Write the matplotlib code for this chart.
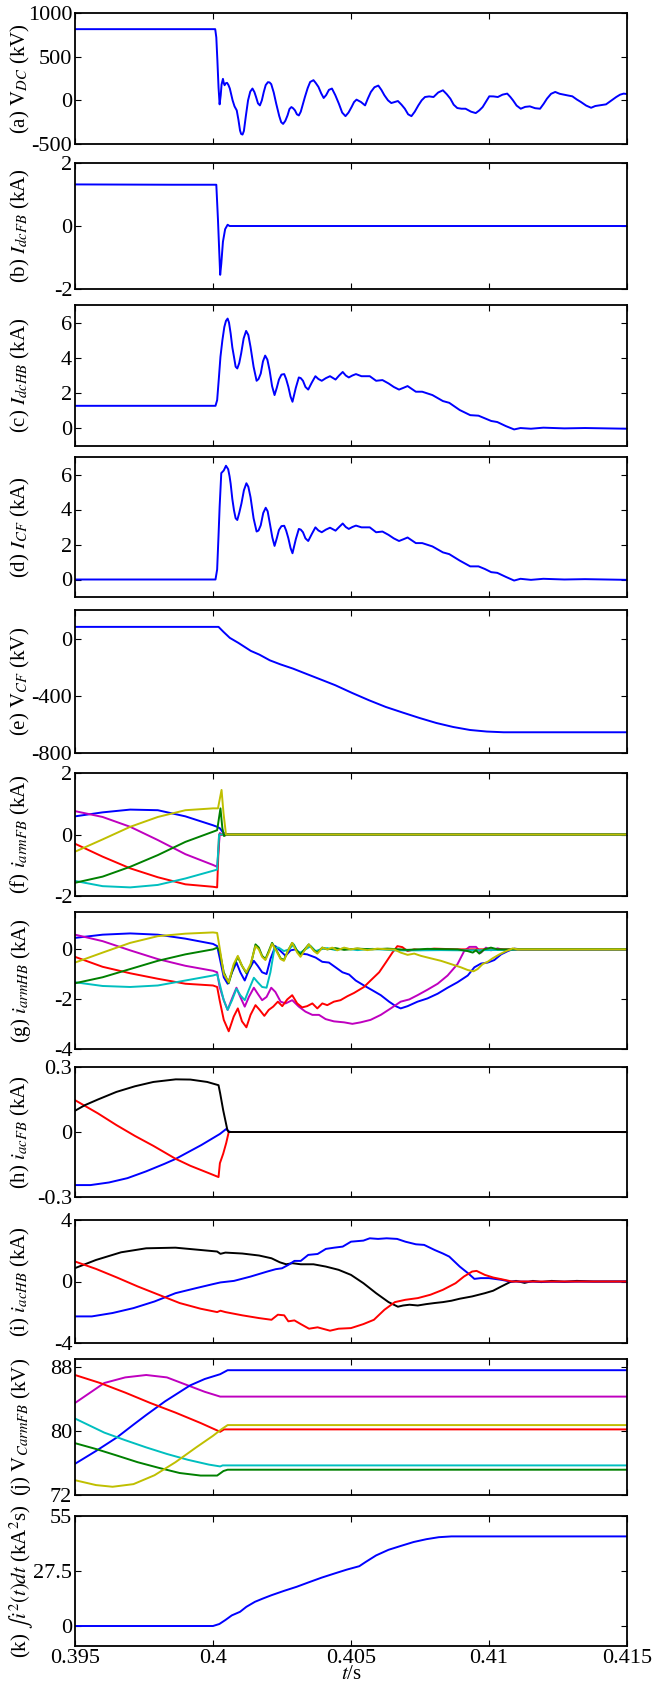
import matplotlib
matplotlib.use("Agg")
import matplotlib.pyplot as plt

plt.rcParams['font.family'] = ['Liberation Serif', 'DejaVu Serif']
plt.rcParams['mathtext.fontset'] = 'stix'
plt.rcParams['axes.unicode_minus'] = False

# ---------------- data (time s, value) ----------------
a_vdc = [(0.395, 815), (0.40008, 815), (0.40012, 720), (0.40016, 450), (0.40020, 150), (0.40024, -46),
         (0.40028, 60), (0.40031, 180), (0.40036, 246), (0.40039, 200), (0.40042, 173), (0.40046, 195),
         (0.40051, 200), (0.40056, 175), (0.40061, 135), (0.40066, 70), (0.40071, 0), (0.40078, -69),
         (0.40086, -115), (0.40092, -220), (0.40098, -346), (0.40102, -385), (0.40107, -392), (0.40112, -350),
         (0.40119, -180), (0.40127, 0), (0.40135, 100), (0.40143, 135), (0.40150, 95), (0.40156, 38),
         (0.40163, -35), (0.40170, -58), (0.40177, 0), (0.40184, 96), (0.40191, 175), (0.40199, 208),
         (0.40205, 205), (0.40211, 185), (0.40220, 90), (0.40229, -38), (0.40240, -180), (0.40247, -250),
         (0.40254, -270), (0.40262, -235), (0.40270, -173), (0.40277, -100), (0.40284, -77), (0.40290, -90),
         (0.40297, -115), (0.40304, -160), (0.40311, -173), (0.40318, -130), (0.40325, -50), (0.40333, 38),
         (0.40343, 140), (0.40352, 210), (0.40364, 231), (0.40372, 200), (0.40382, 154), (0.40392, 80),
         (0.40401, 27), (0.40410, 60), (0.40420, 120), (0.40431, 135), (0.40443, 60), (0.40456, -38),
         (0.40468, -140), (0.40480, -181), (0.40491, -140), (0.40502, -77), (0.40511, -20), (0.40520, 8),
         (0.40536, -19), (0.40551, -58), (0.40561, 20), (0.40572, 96), (0.40585, 150), (0.40599, 169),
         (0.40610, 120), (0.40621, 58), (0.40634, 0), (0.40646, -31), (0.40658, -20), (0.40670, -8),
         (0.40683, -50), (0.40695, -96), (0.40707, -160), (0.40719, -181), (0.40731, -130), (0.40744, -58),
         (0.40756, 0), (0.40768, 38), (0.40783, 45), (0.40799, 38), (0.40816, 90), (0.40833, 115),
         (0.40847, 70), (0.40860, 19), (0.40872, -50), (0.40885, -88), (0.40900, -96), (0.40915, -96),
         (0.40935, -130), (0.40952, -146), (0.40965, -115), (0.40977, -77), (0.40990, -10), (0.41001, 46),
         (0.41016, 45), (0.41032, 38), (0.41049, 65), (0.41066, 77), (0.41077, 40), (0.41087, 0),
         (0.41100, -60), (0.41115, -96), (0.41131, -75), (0.41148, -69), (0.41167, -90), (0.41185, -96),
         (0.41198, -40), (0.41210, 19), (0.41225, 75), (0.41240, 96), (0.41256, 75), (0.41271, 65),
         (0.41287, 55), (0.41302, 46), (0.41318, 10), (0.41333, -19), (0.41352, -60), (0.41370, -85),
         (0.41385, -65), (0.41400, -58), (0.41424, -46), (0.41442, -5), (0.41461, 38), (0.41475, 65),
         (0.41488, 77), (0.415, 72)]

b_idcfb = [(0.395, 1.32), (0.3985, 1.31), (0.40012, 1.31), (0.40018, 0.2), (0.40026, -1.55), (0.40030, -1.2),
           (0.40036, -0.5), (0.40044, -0.1), (0.40053, 0.04), (0.4006, 0.0), (0.415, 0.0)]

c_idchb = [(0.395, 1.28), (0.40009, 1.28), (0.40015, 1.6), (0.40021, 2.8), (0.40027, 4.06), (0.40034, 5.0),
           (0.40041, 5.75), (0.40047, 6.1), (0.40053, 6.23), (0.40058, 6.0), (0.40064, 5.38), (0.4007, 4.6),
           (0.40076, 4.06), (0.40082, 3.5), (0.40088, 3.4), (0.40095, 3.7), (0.40102, 4.25), (0.40111, 5.1),
           (0.4012, 5.53), (0.40128, 5.3), (0.40136, 4.62), (0.40147, 3.5), (0.40158, 2.7), (0.40165, 2.8),
           (0.40173, 3.11), (0.40181, 3.8), (0.40189, 4.13), (0.40197, 3.9), (0.40205, 3.3), (0.40214, 2.4),
           (0.40223, 1.89), (0.40231, 2.3), (0.40239, 2.77), (0.40248, 3.05), (0.40258, 3.08), (0.40265, 2.8),
           (0.40273, 2.36), (0.40281, 1.8), (0.40288, 1.51), (0.40300, 2.3), (0.40311, 2.89), (0.40318, 2.85),
           (0.40326, 2.7), (0.40335, 2.35), (0.40345, 2.2), (0.40358, 2.6), (0.40371, 2.96), (0.40382, 2.8),
           (0.40394, 2.7), (0.40409, 2.85), (0.40424, 2.96), (0.40444, 2.77), (0.40457, 3.0), (0.4047, 3.2),
           (0.40481, 3.0), (0.40492, 2.89), (0.40505, 3.0), (0.40518, 3.08), (0.40538, 2.96), (0.40568, 2.96),
           (0.40591, 2.7), (0.40614, 2.74), (0.40636, 2.55), (0.40655, 2.35), (0.40674, 2.2), (0.40690, 2.3),
           (0.40705, 2.4), (0.40735, 2.08), (0.40758, 2.08), (0.40795, 1.89), (0.40833, 1.55), (0.40856, 1.45),
           (0.40894, 1.04), (0.40932, 0.75), (0.40962, 0.72), (0.40985, 0.57), (0.41008, 0.42), (0.4103, 0.36),
           (0.41061, 0.13), (0.41091, -0.06), (0.41114, 0.02), (0.41152, -0.02), (0.41197, 0.04), (0.41273, 0.0),
           (0.41348, 0.02), (0.415, -0.02)]

d_icf = [(0.395, 0.0), (0.40009, 0.0), (0.40015, 0.57), (0.40020, 2.5), (0.40024, 4.15), (0.4003, 6.08),
         (0.40039, 6.23), (0.40047, 6.5), (0.40055, 6.3), (0.40060, 5.9), (0.40064, 5.47), (0.4007, 4.6),
         (0.40076, 3.96), (0.40082, 3.5), (0.40088, 3.4), (0.40095, 3.8), (0.40103, 4.34), (0.40112, 5.1),
         (0.40121, 5.5), (0.40128, 5.3), (0.40136, 4.7), (0.40147, 3.5), (0.40158, 2.74), (0.40165, 2.8),
         (0.40173, 3.1), (0.40182, 3.8), (0.40191, 4.1), (0.40198, 3.9), (0.40206, 3.2), (0.40215, 2.4),
         (0.40223, 1.92), (0.40231, 2.35), (0.40239, 2.83), (0.40248, 3.05), (0.40258, 3.07), (0.40265, 2.8),
         (0.40273, 2.36), (0.40281, 1.8), (0.40288, 1.5), (0.40300, 2.3), (0.40311, 2.89), (0.40318, 2.85),
         (0.40326, 2.7), (0.40335, 2.35), (0.40345, 2.2), (0.40358, 2.6), (0.40371, 2.98), (0.40382, 2.8),
         (0.40394, 2.7), (0.40409, 2.85), (0.40424, 2.96), (0.40444, 2.79), (0.40457, 3.0), (0.4047, 3.2),
         (0.40481, 3.0), (0.40492, 2.89), (0.40505, 3.0), (0.40518, 3.08), (0.40538, 2.98), (0.40568, 2.98),
         (0.40591, 2.7), (0.40614, 2.74), (0.40636, 2.55), (0.40655, 2.35), (0.40674, 2.2), (0.40690, 2.3),
         (0.40705, 2.4), (0.40735, 2.08), (0.40758, 2.08), (0.40795, 1.89), (0.40833, 1.55), (0.40856, 1.45),
         (0.40894, 1.08), (0.40932, 0.75), (0.40962, 0.75), (0.40985, 0.6), (0.41008, 0.42), (0.4103, 0.38),
         (0.41061, 0.15), (0.41091, -0.06), (0.41114, 0.04), (0.41152, -0.02), (0.41197, 0.04), (0.41273, 0.0),
         (0.41348, 0.02), (0.415, -0.02)]

e_vcf = [(0.395, 82), (0.4002, 82), (0.40038, 47), (0.40061, 5), (0.40092, -30), (0.40137, -86), (0.40168, -112),
         (0.40206, -152), (0.40244, -180), (0.4029, -210), (0.40336, -245), (0.40397, -291), (0.40443, -326),
         (0.40504, -380), (0.40565, -431), (0.40626, -478), (0.40687, -517), (0.40748, -555), (0.40809, -590),
         (0.4087, -618), (0.40931, -639), (0.40992, -650), (0.41053, -655), (0.415, -655)]

f_blue = [(0.395, 0.59), (0.396, 0.72), (0.397, 0.81), (0.398, 0.79), (0.399, 0.59), (0.4, 0.30), (0.40015, 0.25),
          (0.40025, 0.2), (0.40035, 0.08), (0.40045, 0.0), (0.415, 0.0)]
f_magenta = [(0.395, 0.76), (0.396, 0.57), (0.397, 0.25), (0.398, -0.18), (0.399, -0.64), (0.4, -0.99),
             (0.40015, -1.05), (0.40025, 0.05), (0.40032, -0.02), (0.40038, 0.05), (0.40045, -0.03),
             (0.4005, 0.0), (0.415, 0.0)]
f_green = [(0.395, -1.57), (0.396, -1.37), (0.397, -1.05), (0.398, -0.67), (0.399, -0.24), (0.4, 0.09),
           (0.40015, 0.14), (0.40027, 0.85), (0.40034, 0.2), (0.4004, -0.05), (0.40047, 0.0), (0.415, 0.0)]
f_red = [(0.395, -0.3), (0.396, -0.72), (0.397, -1.1), (0.398, -1.39), (0.399, -1.62), (0.4, -1.70),
         (0.40015, -1.72), (0.40022, 0.0), (0.415, 0.0)]
f_cyan = [(0.395, -1.51), (0.396, -1.68), (0.397, -1.72), (0.398, -1.64), (0.399, -1.43), (0.4, -1.18),
          (0.40015, -1.14), (0.40022, 0.0), (0.415, 0.0)]
f_yellow = [(0.395, -0.56), (0.396, -0.16), (0.397, 0.25), (0.398, 0.57), (0.399, 0.79), (0.4, 0.85),
            (0.40018, 0.85), (0.40031, 1.45), (0.40038, 0.7), (0.40047, 0.0), (0.415, 0.0)]

g_blue = [(0.395, 0.46), (0.396, 0.59), (0.397, 0.64), (0.398, 0.59), (0.399, 0.43), (0.4, 0.22), (0.40015, 0.13),
          (0.40024, -0.33), (0.40039, -1.12), (0.40053, -1.38), (0.40069, -0.92), (0.40085, -0.53), (0.40099, -0.92),
          (0.40115, -1.25), (0.4013, -0.83), (0.40148, -0.46), (0.40162, -0.66), (0.40178, -0.92), (0.40194, -0.99),
          (0.40208, -0.39), (0.40226, 0.13), (0.40245, -0.07), (0.40263, -0.26), (0.40281, -0.04), (0.40299, 0.0),
          (0.40317, -0.17), (0.40341, -0.2), (0.40372, -0.33), (0.40396, -0.5), (0.4042, -0.53), (0.40444, -0.72),
          (0.40469, -0.92), (0.40493, -1.01), (0.40517, -1.25), (0.40547, -1.45), (0.40577, -1.64), (0.40608, -1.84),
          (0.40638, -2.1), (0.40662, -2.28), (0.4068, -2.37), (0.40705, -2.28), (0.40741, -2.1), (0.40777, -1.97),
          (0.40814, -1.78), (0.4085, -1.54), (0.40886, -1.32), (0.40923, -1.05), (0.40947, -0.72), (0.40971, -0.57),
          (0.40995, -0.53), (0.41019, -0.43), (0.41044, -0.2), (0.41068, -0.07), (0.41092, 0.03), (0.41116, 0.0),
          (0.415, 0.0)]
g_magenta = [(0.395, 0.59), (0.396, 0.33), (0.397, -0.04), (0.398, -0.39), (0.399, -0.66), (0.4, -0.86),
             (0.40015, -0.92), (0.40024, -1.51), (0.40039, -2.04), (0.40053, -2.43), (0.40069, -1.97), (0.40085, -1.54),
             (0.40099, -1.91), (0.40115, -2.3), (0.4013, -1.91), (0.40148, -1.54), (0.40162, -1.78), (0.40178, -2.04),
             (0.40194, -1.91), (0.40211, -1.54), (0.40226, -1.71), (0.40245, -2.1), (0.40263, -2.17), (0.40287, -2.04),
             (0.40311, -2.3), (0.40335, -2.5), (0.4036, -2.63), (0.40384, -2.63), (0.40408, -2.8), (0.40438, -2.89),
             (0.40475, -2.93), (0.40505, -2.99), (0.40535, -2.93), (0.40571, -2.83), (0.40608, -2.63), (0.40644, -2.37),
             (0.4068, -2.1), (0.40711, -2.01), (0.40741, -1.84), (0.40777, -1.62), (0.40814, -1.38), (0.4085, -1.05),
             (0.40886, -0.59), (0.4091, -0.07), (0.40929, 0.1), (0.40953, 0.1), (0.40971, -0.13), (0.40989, 0.07),
             (0.41007, -0.04), (0.41031, 0.04), (0.41056, -0.03), (0.41104, 0.0), (0.415, 0.0)]
g_red = [(0.395, -0.3), (0.396, -0.7), (0.397, -0.96), (0.398, -1.18), (0.399, -1.38), (0.4, -1.45), (0.40015, -1.51),
         (0.40024, -2.04), (0.40039, -2.83), (0.40057, -3.29), (0.40075, -2.7), (0.4009, -2.37), (0.40105, -2.89),
         (0.40121, -3.13), (0.40136, -2.63), (0.40154, -2.24), (0.40169, -2.43), (0.40186, -2.67), (0.40202, -2.43),
         (0.40218, -2.3), (0.40235, -2.1), (0.40251, -2.28), (0.40269, -2.01), (0.40287, -1.84), (0.40305, -2.17),
         (0.40323, -2.33), (0.40341, -2.28), (0.4036, -2.17), (0.40378, -2.37), (0.40396, -2.17), (0.40414, -2.24),
         (0.40438, -2.1), (0.40462, -2.04), (0.40487, -1.88), (0.40511, -1.75), (0.40547, -1.51), (0.40571, -1.25),
         (0.40602, -0.92), (0.40626, -0.53), (0.4065, -0.13), (0.40668, 0.13), (0.40686, 0.09), (0.40705, -0.07),
         (0.40729, 0.0), (0.40753, -0.03), (0.40801, 0.03), (0.40886, 0.0), (0.415, 0.0)]
g_cyan = [(0.395, -1.32), (0.396, -1.47), (0.397, -1.51), (0.398, -1.45), (0.399, -1.25), (0.4, -1.05),
          (0.40015, -1.0), (0.40024, -1.38), (0.40039, -2.04), (0.40053, -2.43), (0.40069, -2.04), (0.40085, -1.58),
          (0.40099, -1.84), (0.40115, -2.04), (0.4013, -1.62), (0.40148, -1.14), (0.40162, -1.32), (0.40178, -1.51),
          (0.40194, -1.54), (0.40208, -0.92), (0.40223, 0.07), (0.40238, 0.07), (0.40257, -0.07), (0.40275, 0.0),
          (0.40293, 0.2), (0.40305, -0.07), (0.40317, -0.13), (0.40335, 0.0), (0.40354, 0.13), (0.40372, -0.07),
          (0.4039, 0.0), (0.40414, 0.05), (0.40444, -0.03), (0.40475, 0.04), (0.40523, -0.03), (0.40577, 0.02),
          (0.40656, -0.04), (0.40741, -0.04), (0.40826, -0.03), (0.4091, -0.04), (0.40995, -0.03), (0.41086, -0.02),
          (0.41104, 0.0), (0.415, 0.0)]
g_green = [(0.395, -1.36), (0.396, -1.12), (0.397, -0.79), (0.398, -0.46), (0.399, -0.2), (0.4, 0.0), (0.40009, 0.04),
           (0.40015, 0.07), (0.40024, -0.07), (0.40039, -0.92), (0.40057, -1.36), (0.40075, -0.66), (0.4009, -0.3),
           (0.40105, -0.66), (0.40121, -0.96), (0.40136, -0.66), (0.40154, 0.2), (0.40166, 0.07), (0.40178, -0.26),
           (0.4019, -0.39), (0.40202, -0.07), (0.40214, 0.26), (0.4023, -0.04), (0.40245, -0.36), (0.40257, -0.43),
           (0.40271, -0.07), (0.40287, 0.26), (0.40305, -0.07), (0.40317, -0.2), (0.40332, 0.0), (0.40347, 0.2),
           (0.40366, -0.04), (0.40378, -0.13), (0.40396, 0.07), (0.40414, 0.0), (0.40444, 0.05), (0.40475, -0.02),
           (0.40523, 0.03), (0.40577, 0.0), (0.40632, 0.03), (0.40705, -0.02), (0.40777, 0.02), (0.40886, 0.0),
           (0.40923, -0.07), (0.40941, -0.13), (0.40953, -0.04), (0.40965, -0.17), (0.40983, 0.0), (0.41007, 0.07),
           (0.41031, 0.0), (0.415, 0.0)]
g_yellow = [(0.395, -0.53), (0.396, -0.13), (0.397, 0.26), (0.398, 0.53), (0.399, 0.63), (0.4, 0.68), (0.40015, 0.66),
            (0.40024, 0.07), (0.40039, -0.99), (0.40057, -1.32), (0.40075, -0.59), (0.4009, -0.26), (0.40105, -0.66),
            (0.40121, -0.92), (0.40136, -0.59), (0.40154, 0.13), (0.40166, 0.0), (0.40178, -0.3), (0.4019, -0.43),
            (0.40202, -0.13), (0.40214, 0.22), (0.4023, -0.07), (0.40245, -0.39), (0.40257, -0.46), (0.40271, -0.07),
            (0.40287, 0.26), (0.40305, -0.13), (0.40317, -0.3), (0.40332, -0.04), (0.40347, 0.2), (0.40366, -0.07),
            (0.40378, -0.17), (0.40396, 0.07), (0.40414, 0.0), (0.40432, 0.07), (0.4045, -0.04), (0.40475, 0.07),
            (0.40499, 0.0), (0.40523, 0.04), (0.40559, -0.03), (0.40596, 0.03), (0.40632, 0.0), (0.40656, 0.0),
            (0.4068, -0.13), (0.40705, -0.22), (0.40729, -0.17), (0.40753, -0.26), (0.40789, -0.36), (0.40826, -0.46),
            (0.40862, -0.59), (0.40898, -0.72), (0.40923, -0.83), (0.40944, -0.88), (0.40959, -0.79), (0.40977, -0.59),
            (0.40995, -0.5), (0.41013, -0.36), (0.41038, -0.2), (0.41062, -0.07), (0.41086, 0.04), (0.41104, 0.0),
            (0.415, 0.0)]

h_black = [(0.395, 0.098), (0.39536, 0.124), (0.39583, 0.15), (0.3965, 0.185), (0.39717, 0.211), (0.39784, 0.231),
           (0.39865, 0.243), (0.39918, 0.242), (0.39979, 0.231), (0.4002, 0.216), (0.40026, 0.178), (0.40037, 0.10),
           (0.40047, 0.04), (0.40052, 0.01), (0.40057, 0.0), (0.415, 0.0)]
h_red = [(0.395, 0.147), (0.39583, 0.086), (0.3965, 0.032), (0.39717, -0.018), (0.39784, -0.064), (0.39865, -0.124),
         (0.39918, -0.156), (0.39985, -0.19), (0.4002, -0.208), (0.40025, -0.144), (0.40037, -0.1), (0.40048, -0.05),
         (0.40057, 0.0), (0.415, 0.0)]
h_blue = [(0.395, -0.245), (0.39556, -0.245), (0.39623, -0.233), (0.3969, -0.213), (0.39757, -0.182),
          (0.39824, -0.147), (0.39865, -0.124), (0.39891, -0.106), (0.39958, -0.06), (0.40025, -0.009),
          (0.40048, 0.014), (0.40057, 0.003), (0.40064, 0.0), (0.415, 0.0)]

i_black = [(0.395, 0.87), (0.39576, 1.4), (0.39667, 1.9), (0.39758, 2.16), (0.39864, 2.2), (0.39955, 2.05),
           (0.40015, 1.95), (0.40027, 1.8), (0.40045, 1.88), (0.40106, 1.82), (0.40167, 1.69), (0.40212, 1.51),
           (0.40242, 1.25), (0.40265, 1.12), (0.40288, 1.19), (0.40318, 1.12), (0.40364, 1.12), (0.40409, 0.97),
           (0.40455, 0.76), (0.405, 0.43), (0.40545, -0.11), (0.40591, -0.76), (0.40636, -1.34), (0.4067, -1.64),
           (0.40689, -1.56), (0.40712, -1.51), (0.40742, -1.56), (0.40773, -1.47), (0.40803, -1.4), (0.40833, -1.34),
           (0.40864, -1.25), (0.40894, -1.12), (0.40939, -0.97), (0.40985, -0.76), (0.41015, -0.6), (0.41045, -0.32),
           (0.41076, -0.04), (0.41098, 0.04), (0.41129, -0.09), (0.41159, 0.04), (0.41189, -0.04), (0.41227, 0.04),
           (0.41273, -0.02), (0.41318, 0.04), (0.41379, 0.0), (0.415, 0.0)]
i_blue = [(0.395, -2.27), (0.39561, -2.27), (0.39636, -2.05), (0.39712, -1.73), (0.39788, -1.3), (0.39864, -0.76),
          (0.39939, -0.43), (0.4, -0.17), (0.40027, -0.06), (0.40076, 0.04), (0.40136, 0.32), (0.40197, 0.65),
          (0.40227, 0.8), (0.4025, 0.86), (0.40273, 1.08), (0.40295, 1.34), (0.40318, 1.34), (0.40345, 1.73),
          (0.40379, 1.79), (0.40409, 2.12), (0.40439, 2.2), (0.4047, 2.27), (0.405, 2.59), (0.40545, 2.66),
          (0.40568, 2.81), (0.40598, 2.77), (0.40629, 2.81), (0.40667, 2.77), (0.40697, 2.59), (0.40735, 2.42),
          (0.40765, 2.38), (0.40803, 2.05), (0.40833, 1.82), (0.40856, 1.62), (0.40894, 0.97), (0.40924, 0.54),
          (0.40947, 0.17), (0.4097, 0.22), (0.41, 0.22), (0.41045, 0.11), (0.41076, 0.0), (0.41197, -0.02),
          (0.415, 0.0)]
i_red = [(0.395, 1.3), (0.39576, 0.82), (0.39652, 0.26), (0.39727, -0.32), (0.39803, -0.86), (0.39879, -1.4),
         (0.39955, -1.77), (0.40015, -1.99), (0.40027, -1.9), (0.40045, -1.99), (0.40106, -2.2), (0.40167, -2.38),
         (0.40212, -2.49), (0.40235, -2.16), (0.40258, -2.2), (0.40273, -2.59), (0.40295, -2.53), (0.40318, -2.77),
         (0.40348, -3.07), (0.40379, -2.98), (0.40424, -3.2), (0.40455, -3.07), (0.405, -3.03), (0.40545, -2.77),
         (0.40583, -2.49), (0.40621, -1.84), (0.40659, -1.34), (0.40697, -1.19), (0.40742, -1.08), (0.40788, -0.86),
         (0.40833, -0.54), (0.40879, -0.11), (0.40909, 0.32), (0.40939, 0.65), (0.40955, 0.69), (0.40985, 0.43),
         (0.41015, 0.26), (0.41045, 0.15), (0.41083, 0.0), (0.415, 0.0)]

j_blue = [(0.395, 75.9), (0.39576, 77.5), (0.39652, 79.2), (0.39712, 80.8), (0.39758, 82.0), (0.39826, 83.7),
          (0.39917, 85.7), (0.3997, 86.5), (0.40026, 87.1), (0.40053, 87.6), (0.415, 87.6)]
j_magenta = [(0.395, 83.5), (0.39606, 86.0), (0.39682, 86.7), (0.39758, 87.0), (0.39833, 86.7), (0.39909, 85.7),
             (0.3997, 84.9), (0.40026, 84.3), (0.415, 84.3)]
j_red = [(0.395, 87.0), (0.39591, 86.0), (0.39682, 84.8), (0.39773, 83.5), (0.39864, 82.3), (0.39955, 81.0),
         (0.40026, 79.9), (0.4004, 80.2), (0.415, 80.2)]
j_cyan = [(0.395, 81.56), (0.39606, 79.8), (0.39682, 78.85), (0.39758, 77.95), (0.39833, 77.13), (0.39909, 76.4),
          (0.39985, 75.8), (0.40026, 75.57), (0.40035, 75.7), (0.415, 75.7)]
j_green = [(0.395, 78.48), (0.39576, 77.75), (0.39652, 76.93), (0.39727, 76.1), (0.39803, 75.4), (0.39879, 74.75),
           (0.39955, 74.43), (0.40015, 74.43), (0.40038, 75.0), (0.40053, 75.16), (0.415, 75.16)]
j_yellow = [(0.395, 73.85), (0.39576, 73.24), (0.39636, 73.03), (0.39712, 73.36), (0.39788, 74.47), (0.39864, 76.1),
            (0.39939, 77.95), (0.4, 79.4), (0.4003, 80.2), (0.40053, 80.74), (0.415, 80.74)]

k_i2t = [(0.395, 0.0), (0.4, 0.0), (0.40023, 1.0), (0.40045, 3.0), (0.40068, 5.3), (0.40098, 7.1), (0.40121, 9.6),
         (0.40152, 12.1), (0.40182, 13.8), (0.40212, 15.4), (0.40258, 17.6), (0.40303, 19.6), (0.40348, 21.9),
         (0.40394, 24.2), (0.40439, 26.2), (0.40485, 28.2), (0.4053, 29.9), (0.40553, 32.0), (0.40591, 35.3),
         (0.40636, 38.1), (0.40682, 40.1), (0.40727, 42.0), (0.40773, 43.4), (0.40818, 44.4), (0.40864, 44.8),
         (0.415, 44.8)]

x_ticks = [0.395, 0.4, 0.405, 0.41, 0.415]
x_ticklabels = ['0.395', '0.4', '0.405', '0.41', '0.415']

# ---------------- styling ----------------
C = {'b': (0, 0, 1), 'r': (1, 0, 0), 'g': (0, 0.5, 0), 'c': (0, 0.75, 0.75),
     'm': (0.75, 0, 0.75), 'y': (0.75, 0.75, 0), 'k': (0, 0, 0)}

panels = [
    (13, 144, [(a_vdc, 'b')], (-500, 1000), [-500, 0, 500, 1000], ['-500', '0', '500', '1000'],
     r'(a) $\mathrm{V}_{DC}$ (kV)'),
    (163, 289, [(b_idcfb, 'b')], (-2, 2), [-2, 0, 2], ['-2', '0', '2'],
     r'(b) $I_{dcFB}$ (kA)'),
    (305, 446, [(c_idchb, 'b')], (-1, 7), [0, 2, 4, 6], ['0', '2', '4', '6'],
     r'(c) $I_{dcHB}$ (kA)'),
    (457, 597, [(d_icf, 'b')], (-1, 7), [0, 2, 4, 6], ['0', '2', '4', '6'],
     r'(d) $I_{CF}$ (kA)'),
    (610, 753, [(e_vcf, 'b')], (-800, 200), [-800, -400, 0], ['-800', '-400', '0'],
     r'(e) $\mathrm{V}_{CF}$ (kV)'),
    (773, 896, [(f_blue, 'b'), (f_magenta, 'm'), (f_red, 'r'), (f_cyan, 'c'), (f_green, 'g'), (f_yellow, 'y')],
     (-2, 2), [-2, 0, 2], ['-2', '0', '2'], r'(f) $i_{armFB}$ (kA)'),
    (912, 1049, [(g_blue, 'b'), (g_magenta, 'm'), (g_red, 'r'), (g_cyan, 'c'), (g_green, 'g'), (g_yellow, 'y')],
     (-4, 1.5), [-4, -2, 0], ['-4', '-2', '0'], r'(g) $i_{armHB}$ (kA)'),
    (1067, 1197, [(h_blue, 'b'), (h_red, 'r'), (h_black, 'k')], (-0.3, 0.3), [-0.3, 0, 0.3],
     ['-0.3', '0', '0.3'], r'(h) $i_{acFB}$ (kA)'),
    (1220, 1343, [(i_black, 'k'), (i_blue, 'b'), (i_red, 'r')], (-4, 4), [-4, 0, 4], ['-4', '0', '4'],
     r'(i) $i_{acHB}$ (kA)'),
    (1359, 1495, [(j_magenta, 'm'), (j_blue, 'b'), (j_red, 'r'), (j_cyan, 'c'), (j_green, 'g'), (j_yellow, 'y')],
     (72, 89), [72, 80, 88], ['72', '80', '88'], r'(j) $\mathrm{V}_{CarmFB}$ (kV)'),
    (1516, 1646, [(k_i2t, 'b')], (-10, 55), [0, 27.5, 55], ['0', '27.5', '55'],
     r'(k) $\int i^2(t)dt$ (kA$^2$s)'),
]

W, H = 654, 1689
fig = plt.figure(figsize=(W / 100, H / 100), dpi=100)
left_px, right_px = 75, 627

for idx, (top, bot, series, ylim, yt, ytl, ylab) in enumerate(panels):
    ax = fig.add_axes([left_px / W, 1 - bot / H, (right_px - left_px) / W, (bot - top) / H])
    for pts, col in series:
        ts = [p[0] for p in pts]
        vs = [p[1] for p in pts]
        ax.plot(ts, vs, color=C[col], lw=1.4, solid_joinstyle='round')
    ax.set_xlim(0.395, 0.415)
    ax.set_ylim(*ylim)
    ax.set_yticks(yt)
    ax.set_yticklabels(ytl)
    ax.set_xticks(x_ticks)
    last = idx == len(panels) - 1
    ax.set_xticklabels(x_ticklabels if last else [])
    ax.tick_params(direction='in', top=True, right=True, length=4, width=0.8,
                   labelsize=16, pad=2)
    for s in ax.spines.values():
        s.set_linewidth(1.3)
    ax.set_ylabel(ylab, fontsize=15)
    ax.yaxis.set_label_coords(-0.098, 0.5)
    ax.yaxis.label.set_verticalalignment('center')
    if last:
        ax.set_xlabel(r'$t$/s', fontsize=15, labelpad=-2)

fig.savefig('out.png', dpi=100)
